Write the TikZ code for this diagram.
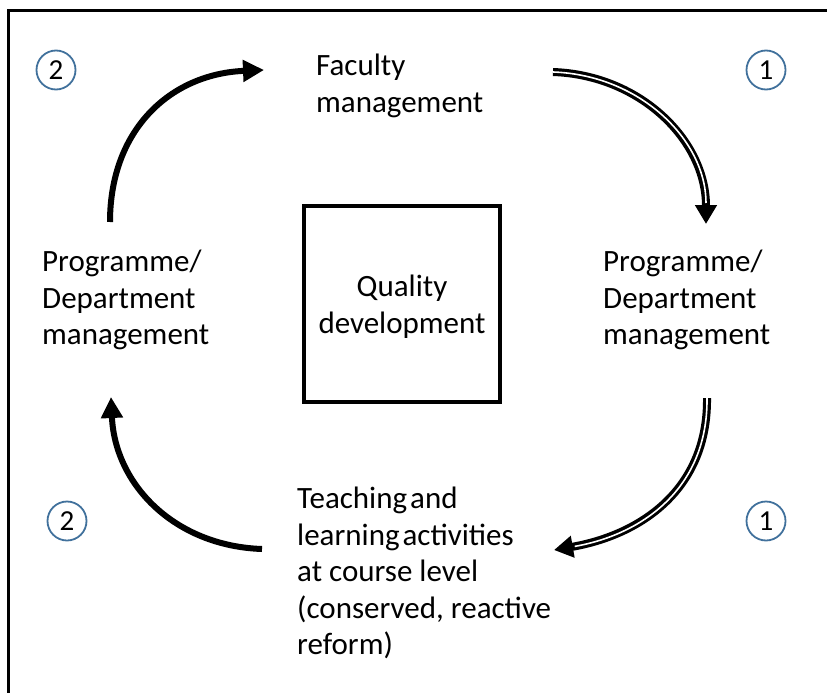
\documentclass[tikz,border=0pt]{standalone}
\usepackage{fontspec}
\setmainfont{Carlito}
\usetikzlibrary{arrows.meta}
\definecolor{circblue}{HTML}{41719C}
\begin{document}
\begin{tikzpicture}[x=1pt,y=-1pt,
  lbl/.style={align=left,inner sep=0pt,font=\fontsize{31}{36.6}\selectfont},
  numc/.style={draw=circblue,line width=1.8pt,circle,minimum size=39pt,inner sep=0pt,font=\fontsize{29}{30}\selectfont},
  solidarr/.style={line width=6pt,-{Triangle[length=21pt,width=21pt]}},
  dblarr/.style={line width=8pt,-{Triangle[length=19pt,width=21pt]}},
  dblgap/.style={white,line width=1.6pt,shorten >=21pt}
]
\useasboundingbox (0,0) rectangle (827,693);
% frame
\draw[line width=3pt] (8,700) -- (8,11) -- (840,11);
% central box
\node[draw,line width=3.5pt,minimum width=196pt,minimum height=196pt,inner sep=0pt] (box) at (402,304) {};
\node[lbl,align=center] (qd) at (402,307) {Quality\\development};
% labels
\node[lbl,anchor=west] (fac) at (316,86) {Faculty\\management};
\node[lbl,anchor=west] (pdl) at (42,300) {Programme/\\Department\\management};
\node[lbl,anchor=west] (pdr) at (603,300) {Programme/\\Department\\management};
\node[lbl,anchor=west] (tla) at (297,573) {Teaching\hspace{3pt}and\\learning\hspace{3pt}activities\\at course level\\(conserved, reactive\\reform)};
% circled numbers
\node[numc] (n2a) at (56,70) {2};
\node[numc] (n1a) at (766,70) {1};
\node[numc] (n2b) at (67,521) {2};
\node[numc] (n1b) at (766,521) {1};
% arrow end points
\coordinate (tlS) at (110,222);
\coordinate (tlE) at (264,70);
\coordinate (blS) at (262,549);
\coordinate (blE) at (111,397);
\coordinate (trS) at (553,72);
\coordinate (trE) at (706,224);
\coordinate (brS) at (707,398);
\coordinate (brE) at (554,550);
% solid arrows
\draw[solidarr] (tlS) .. controls (110,130) and (170,74) .. (tlE);
\draw[solidarr] (blS) .. controls (175,546) and (115,485) .. (blE);
% double arrows
\draw[dblarr] (trS) .. controls (640,75) and (706,140) .. (trE);
\draw[dblgap] (trS) .. controls (640,75) and (706,140) .. (trE);
\draw[dblarr] (brS) .. controls (708,490) and (640,535) .. (brE);
\draw[dblgap] (brS) .. controls (708,490) and (640,535) .. (brE);
\end{tikzpicture}
\end{document}
